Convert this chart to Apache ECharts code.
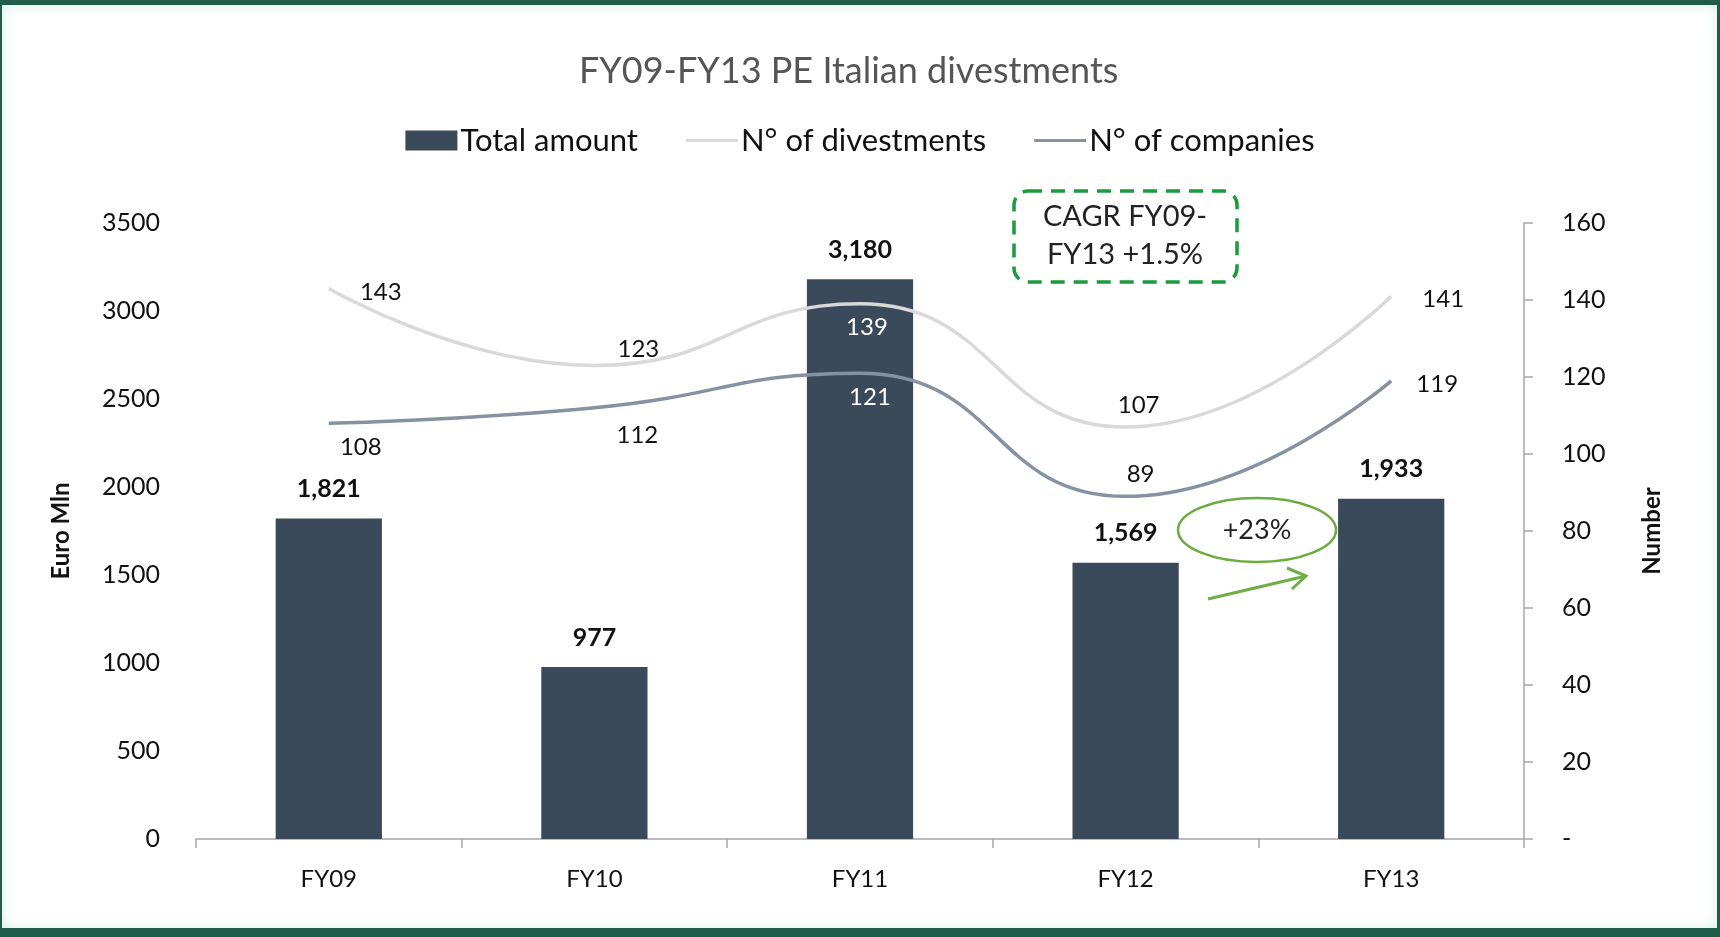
<!DOCTYPE html>
<html>
<head>
<meta charset="utf-8">
<script src="https://cdn.jsdelivr.net/npm/echarts@6/dist/echarts.min.js"></script>
<style>
html,body{margin:0;padding:0;width:1720px;height:937px;overflow:hidden;background:#1f5c4a;}
#frame{position:absolute;left:2px;top:5px;width:1715px;height:923px;background:#fff;box-shadow:inset 0 0 14px #d6efe7;}
#chart{position:absolute;left:-2px;top:-5px;width:1720px;height:937px;}
</style>
</head>
<body>
<div id="frame"><div id="chart"></div></div>
<script>
const categories = ['FY09', 'FY10', 'FY11', 'FY12', 'FY13'];
const totalAmount = [1821, 977, 3180, 1569, 1933];
const divestments = [143, 123, 139, 107, 141];
const companies = [108, 112, 121, 89, 119];
const leftTicks = [0, 500, 1000, 1500, 2000, 2500, 3000, 3500];
const rightTicks = [0, 20, 40, 60, 80, 100, 120, 140, 160];

// label placement offsets (pixels) for line labels
const divOffsets = [[52, 4], [44, -16], [7, 23], [13, -22], [52, 3]];
const compOffsets = [[32, 24], [43, 27], [10, 24], [15, -22], [46, 3]];
const whiteIdx = 2;

const FONT = 'Lato';
const chart = echarts.init(document.getElementById('chart'), null, {renderer: 'canvas'});

function lineData(vals, offs) {
  return vals.map((v, i) => ({
    value: v,
    label: {offset: offs[i], color: i === whiteIdx ? '#ffffff' : '#111111'}
  }));
}

const option = {
  animation: false,
  textStyle: {fontFamily: FONT},
  title: {
    text: 'FY09-FY13 PE Italian divestments',
    left: 574, top: 48,
    textStyle: {fontFamily: FONT, fontSize: 36, fontWeight: 'normal', color: '#555555'}
  },
  legend: {
    top: 120, left: 'center',
    itemWidth: 52, itemHeight: 20, itemGap: 48,
    textStyle: {fontFamily: FONT, fontSize: 31, color: '#111111', padding: [0, 0, 0, -2]},
    data: [
      {name: 'Total amount', icon: 'rect'},
      {name: 'N° of divestments', icon: 'path://M0,9 L52,9 L52,12 L0,12 Z'},
      {name: 'N° of companies', icon: 'path://M0,9 L52,9 L52,12 L0,12 Z'}
    ]
  },
  grid: {left: 196, right: 196, top: 223, bottom: 98},
  xAxis: {
    type: 'category', data: categories,
    axisLine: {lineStyle: {color: '#a6a6a6', width: 1.5}},
    axisTick: {show: true, length: 9, lineStyle: {color: '#a6a6a6', width: 1.5}},
    axisLabel: {fontFamily: FONT, fontSize: 24, color: '#111111', margin: 28}
  },
  yAxis: [
    {
      type: 'value', min: leftTicks[0], max: leftTicks[leftTicks.length - 1], interval: 500,
      name: 'Euro Mln', nameLocation: 'middle', nameGap: 123, nameRotate: 90,
      nameTextStyle: {fontFamily: FONT, fontSize: 24, fontWeight: 'bold', color: '#111111'},
      axisLine: {show: false}, axisTick: {show: false}, splitLine: {show: false},
      axisLabel: {fontFamily: FONT, fontSize: 25, color: '#111111', margin: 36,
        formatter: v => String(v)}
    },
    {
      type: 'value', min: rightTicks[0], max: rightTicks[rightTicks.length - 1], interval: 20,
      position: 'right',
      name: 'Number', nameLocation: 'middle', nameGap: 116, nameRotate: 90,
      nameTextStyle: {fontFamily: FONT, fontSize: 24, fontWeight: 'bold', color: '#111111'},
      axisLine: {show: true, lineStyle: {color: '#a6a6a6', width: 1.5}},
      axisTick: {show: true, length: 9, lineStyle: {color: '#a6a6a6', width: 1.5}},
      splitLine: {show: false},
      axisLabel: {fontFamily: FONT, fontSize: 25, color: '#111111', margin: 38,
        formatter: v => v === 0 ? '-' : String(v)}
    }
  ],
  series: [
    {
      name: 'Total amount', type: 'bar', data: totalAmount, barWidth: '40%',
      itemStyle: {color: '#3a4a5b'},
      label: {show: true, position: 'top', distance: 17, fontFamily: FONT, fontSize: 25,
        fontWeight: 'bold', color: '#111111',
        formatter: p => p.value.toLocaleString('en-US')}
    },
    {
      name: 'N° of divestments', type: 'line', yAxisIndex: 1, smooth: 0.5,
      data: lineData(divestments, divOffsets), symbol: 'circle', symbolSize: 0, showSymbol: true,
      lineStyle: {color: '#d9d9d9', width: 3.5}, itemStyle: {color: '#d9d9d9'},
      label: {show: true, position: 'inside', fontFamily: FONT, fontSize: 24}
    },
    {
      name: 'N° of companies', type: 'line', yAxisIndex: 1, smooth: 0.5,
      data: lineData(companies, compOffsets), symbol: 'circle', symbolSize: 0, showSymbol: true,
      lineStyle: {color: '#8692a1', width: 3.5}, itemStyle: {color: '#8692a1'},
      label: {show: true, position: 'inside', fontFamily: FONT, fontSize: 24}
    }
  ],
  graphic: [
    {type: 'rect', shape: {x: 1014, y: 191, width: 223, height: 91, r: 14},
     style: {fill: 'none', stroke: '#1b9a3e', lineWidth: 3.5, lineDash: [14, 9]}, z: 10},
    {type: 'text', x: 1125, y: 236,
     style: {text: 'CAGR FY09-\nFY13 +1.5%', fontFamily: FONT, fontSize: 29, fill: '#222222',
       textAlign: 'center', textVerticalAlign: 'middle', lineHeight: 38}, z: 10},
    {type: 'ellipse', shape: {cx: 1257, cy: 530, rx: 79, ry: 32},
     style: {fill: 'none', stroke: '#6aac3e', lineWidth: 2.5}, z: 10},
    {type: 'text', x: 1257, y: 530,
     style: {text: '+23%', fontFamily: FONT, fontSize: 27, fill: '#222222',
       textAlign: 'center', textVerticalAlign: 'middle'}, z: 10},
    {type: 'polyline', shape: {points: [[1208, 599], [1306, 576]]},
     style: {stroke: '#70ad47', lineWidth: 3, fill: 'none'}, z: 10},
    {type: 'polyline', shape: {points: [[1287, 568], [1306, 576], [1292, 589]]},
     style: {stroke: '#70ad47', lineWidth: 3, fill: 'none'}, z: 10}
  ]
};
chart.setOption(option);
</script>
</body>
</html>
